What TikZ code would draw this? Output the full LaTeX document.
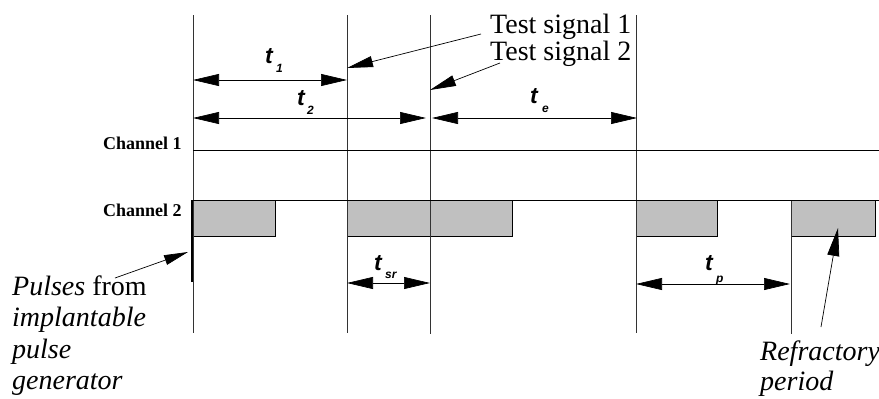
\documentclass[tikz,border=0pt]{standalone}
\usepackage{fontspec}
\setmainfont{Liberation Serif}
\setsansfont{Liberation Sans}
\usetikzlibrary{arrows.meta}
\definecolor{boxgray}{HTML}{C0C0C0}
\begin{document}
\begin{tikzpicture}[x=1pt,y=-1pt,
  marker/.style={line width=1pt, draw=black!80},
  chan/.style={line width=0.9pt},
  pulsebox/.style={draw, line width=0.7pt, fill=boxgray},
  dimline/.style={line width=0.7pt,
    {Triangle[length=26pt,width=12pt]}-{Triangle[length=26pt,width=12pt]}},
  pointer/.style={line width=0.7pt, -{Triangle[length=26pt,width=11pt]}},
  tlabel/.style={font=\sffamily\itshape\bfseries\fontsize{23}{23}\selectfont, inner sep=0pt, anchor=base west},
  tsub/.style={font=\sffamily\itshape\bfseries\fontsize{12}{12}\selectfont, inner sep=0pt, anchor=base west},
  chlabel/.style={font=\bfseries\fontsize{18}{18}\selectfont, inner sep=0pt, anchor=base west},
  bigtext/.style={font=\fontsize{28}{28}\selectfont, inner sep=0pt, anchor=base west},
]
\useasboundingbox (0,0) rectangle (879,399);

% time markers
\foreach \n/\x/\yt/\yb in {a/193/15/333, b/347/15/333, c/430/15/334, d/636/15/333, e/791/200/334}{
  \coordinate (\n top) at (\x,\yt);
  \coordinate (\n bot) at (\x,\yb);
}

% pulse boxes on channel 2
\foreach \l/\r [count=\i] in {193/275, 347/430, 430/512, 636/717, 791/875}
  \draw[pulsebox] (\l,200) rectangle (\r,236);

\foreach \n in {a,b,c,d,e}
  \draw[marker] (\n top) -- (\n bot);

% channel lines
\coordinate (ch1s) at (193,150); \coordinate (ch1e) at (879,150);
\coordinate (ch2s) at (193,200); \coordinate (ch2e) at (879,200);
\draw[chan] (ch1s) -- (ch1e);
\draw[chan] (ch2s) -- (ch2e);
\draw[line width=1.8pt] (192,200) -- (192,282);

\node[chlabel] (ch1) at (103,149) {Channel 1};
\node[chlabel] (ch2) at (103,216) {Channel 2};

% interval arrows
\coordinate (t1l) at (193,80);  \coordinate (t1r) at (347,80);
\coordinate (t2l) at (193,118); \coordinate (t2r) at (426,118);
\coordinate (tel) at (432,118); \coordinate (ter) at (637,118);
\coordinate (tsl) at (347,283); \coordinate (tsr) at (430,283);
\coordinate (tpl) at (636,284); \coordinate (tpr) at (790,284);
\draw[dimline] (t1l) -- (t1r);
\draw[dimline] (t2l) -- (t2r);
\draw[dimline] (tel) -- (ter);
\draw[dimline] (tsl) -- (tsr);
\draw[dimline] (tpl) -- (tpr);

\node[tlabel] (t1) at (265,63) {t};
\node[tsub] (t1s) at (276,72) {1};
\node[tlabel] (t2) at (297,105) {t};
\node[tsub] (t2s) at (307,114) {2};
\node[tlabel] (te) at (530,103) {t};
\node[tsub] (tes) at (542,112) {e};
\node[tlabel] (ts) at (374,270) {t};
\node[tsub] (tss) at (385,278) {sr};
\node[tlabel] (tp) at (705,270) {t};
\node[tsub] (tps) at (716,282) {p};

% test signals
\node[bigtext] (ts1) at (490,33) {Test signal 1};
\node[bigtext] (ts2) at (490,60) {Test signal 2};
\coordinate (ts1from) at (481,34);  \coordinate (ts1to) at (347,68);
\coordinate (ts2from) at (500,63);  \coordinate (ts2to) at (430,90);
\draw[pointer] (ts1from) -- (ts1to);
\draw[pointer] (ts2from) -- (ts2to);

% pulse generator note
\node[bigtext] (pg1) at (12,295) {\textit{Pulses} from};
\node[bigtext] (pg2) at (12,326.5) {\textit{implantable}};
\node[bigtext] (pg3) at (12,358) {\textit{pulse}};
\node[bigtext] (pg4) at (12,389) {\textit{generator}};
\coordinate (pgfrom) at (115,278); \coordinate (pgto) at (188,252);
\draw[line width=0.7pt, -{Triangle[length=24pt,width=10pt]}] (pgfrom) -- (pgto);

% refractory period note
\node[bigtext] (rp1) at (760,360) {\textit{Refractory}};
\node[bigtext] (rp2) at (760,390) {\textit{period}};
\coordinate (rpfrom) at (821,327); \coordinate (rpto) at (838,228);
\draw[line width=0.7pt, -{Triangle[length=28pt,width=12pt]}] (rpfrom) -- (rpto);
\end{tikzpicture}
\end{document}
